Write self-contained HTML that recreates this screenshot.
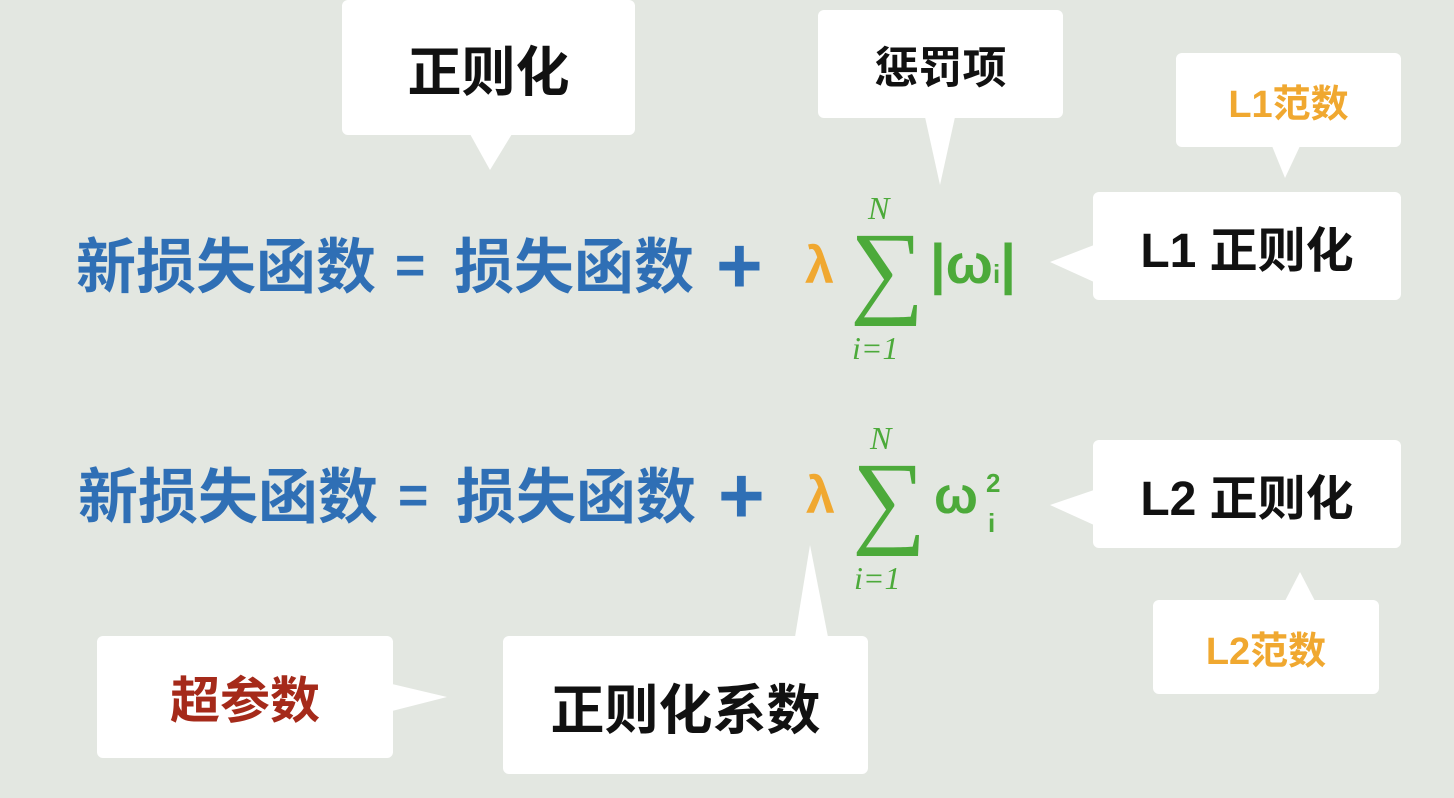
<!DOCTYPE html>
<html><head><meta charset="utf-8"><style>
body{margin:0;width:1454px;height:798px;background:#e3e7e1;position:relative;overflow:hidden;font-family:"Liberation Sans","Noto Sans CJK SC",sans-serif}
.b{position:absolute;background:#fff;border-radius:6px;display:flex;align-items:center;justify-content:center;color:#111}
.t{position:absolute;white-space:nowrap;line-height:1}
.blue{color:#2f6fb5;font-weight:bold;font-size:52px}
.or{color:#f0a830}
.gr{color:#4caa3a}
.sig{font-family:"Liberation Serif",serif;font-size:104px;color:#4caa3a}
.it{font-family:"Liberation Serif",serif;font-style:italic;color:#4caa3a;font-size:32px}
</style></head><body>
<svg width="1454" height="798" style="position:absolute;left:0;top:0">
<g fill="#fff">
<polygon points="470,134 512,134 490,170"/>
<polygon points="925,117 955,117 940,185"/>
<polygon points="1272,146 1300,146 1285,178"/>
<polygon points="1094,245 1094,282 1050,262"/>
<polygon points="1094,490 1094,525 1050,505"/>
<polygon points="1285,601 1315,601 1300,572"/>
<polygon points="392,684 392,711 447,697"/>
<polygon points="795,637 828,637 810,545"/>
</g></svg>
<div class="b" style="left:342px;top:0;width:293px;height:135px;font-size:54px;font-weight:bold">正则化</div>
<div class="b" style="left:818px;top:10px;width:245px;height:108px;font-size:44px;font-weight:bold">惩罚项</div>
<div class="b" style="left:1176px;top:53px;width:225px;height:94px;font-size:38px;font-weight:bold;color:#f0a830">L1范数</div>
<div class="b" style="left:1093px;top:192px;width:308px;height:108px;font-size:48px;font-weight:bold">L1&nbsp;正则化</div>
<div class="b" style="left:1093px;top:440px;width:308px;height:108px;font-size:48px;font-weight:bold">L2 正则化</div>
<div class="b" style="left:1153px;top:600px;width:226px;height:94px;font-size:38px;font-weight:bold;color:#f0a830">L2范数</div>
<div class="b" style="left:97px;top:636px;width:296px;height:122px;font-size:50px;font-weight:bold;color:#a52a1a">超参数</div>
<div class="b" style="left:503px;top:636px;width:365px;height:138px;font-size:54px;font-weight:bold">正则化系数</div>

<div class="t blue" style="left:76px;top:238px;font-size:60px">新损失函数</div>
<div class="t blue" style="left:395px;top:240px;font-size:52px">=</div>
<div class="t blue" style="left:454px;top:238px;font-size:60px">损失函数</div>
<div class="t blue" style="left:716px;top:226px;font-size:80px">+</div>
<div class="t or" style="left:805px;top:240px;font-size:52px;font-weight:bold">λ</div>
<div class="t sig" style="left:850px;top:218px">∑</div>
<div class="t it" style="left:868px;top:192px">N</div>
<div class="t it" style="left:852px;top:332px">i=1</div>
<div class="t gr" style="left:930px;top:236px;font-size:56px;font-weight:bold">|ω<span style="font-size:26px">i</span>|</div>

<div class="t blue" style="left:78px;top:468px;font-size:60px">新损失函数</div>
<div class="t blue" style="left:398px;top:470px;font-size:52px">=</div>
<div class="t blue" style="left:456px;top:468px;font-size:60px">损失函数</div>
<div class="t blue" style="left:718px;top:456px;font-size:80px">+</div>
<div class="t or" style="left:806px;top:470px;font-size:52px;font-weight:bold">λ</div>
<div class="t sig" style="left:852px;top:448px">∑</div>
<div class="t it" style="left:870px;top:422px">N</div>
<div class="t it" style="left:854px;top:562px">i=1</div>
<div class="t gr" style="left:934px;top:470px;font-size:52px;font-weight:bold">ω</div>
<div class="t gr" style="left:986px;top:470px;font-size:26px;font-weight:bold">2</div>
<div class="t gr" style="left:988px;top:510px;font-size:26px;font-weight:bold">i</div>
</body></html>
